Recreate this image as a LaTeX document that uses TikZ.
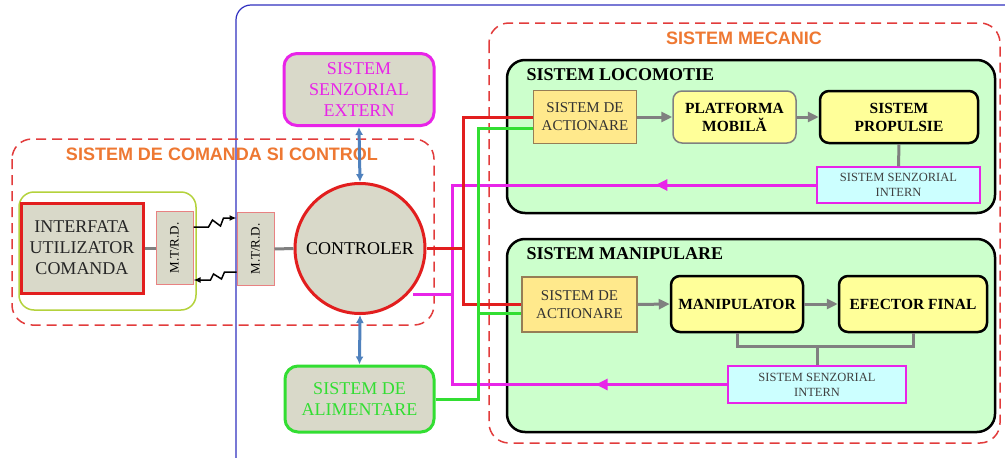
\documentclass[tikz,border=0pt]{standalone}
\usepackage{fontspec}
\setmainfont{Liberation Serif}
\setsansfont{Liberation Sans}
\usepackage{graphicx}
\usetikzlibrary{arrows.meta,decorations.markings}
\definecolor{boxgrey}{RGB}{217,217,201}
\definecolor{magline}{RGB}{232,36,232}
\definecolor{redline}{RGB}{226,30,30}
\definecolor{greenline}{RGB}{50,222,50}
\definecolor{linegrey}{RGB}{128,128,128}
\definecolor{steel}{RGB}{79,129,189}
\definecolor{frameblue}{RGB}{48,48,192}
\definecolor{titleorange}{RGB}{238,120,50}
\definecolor{dashred}{RGB}{226,60,60}
\definecolor{lightgreen}{RGB}{204,255,204}
\definecolor{paleyellow}{RGB}{255,255,153}
\definecolor{actyellow}{RGB}{255,233,140}
\definecolor{actborder}{RGB}{150,125,85}
\definecolor{palecyan}{RGB}{204,255,255}
\definecolor{limeframe}{RGB}{180,210,60}
\definecolor{mtborder}{RGB}{232,130,130}

\begin{document}
\begin{tikzpicture}[x=1pt,y=-1pt]
    \tikzset{%
      sysbox/.style={draw, rounded corners=13pt, fill=boxgrey, line width=3pt,
        align=center, font=\fontsize{18}{21}\selectfont},
      mtbox/.style={draw=mtborder, fill=boxgrey, line width=1pt,
        minimum width=37pt, minimum height=73pt, inner sep=0pt,
        font=\fontsize{13}{15}\selectfont},
      actbox/.style={draw=actborder, fill=actyellow, line width=1.2pt,
        align=center, text=black!80, font=\fontsize{15}{18}\selectfont},
      partbox/.style={draw, rounded corners=9pt, fill=paleyellow, line width=2.5pt,
        align=center, font=\bfseries\fontsize{15.5}{18}\selectfont},
      ssibox/.style={draw=magline, fill=palecyan, line width=1.2pt,
        align=center, text=black!75, font=\fontsize{12.5}{15}\selectfont},
      subframe/.style={draw, line width=2.5pt, rounded corners=18pt, fill=lightgreen},
      dashframe/.style={draw=dashred, line width=1.5pt, dash pattern=on 10pt off 6pt,
        rounded corners=20pt},
      frametitle/.style={text=titleorange, font=\sffamily\bfseries\fontsize{18}{20}\selectfont},
      subtitle/.style={anchor=west, font=\bfseries\fontsize{18}{20}\selectfont},
      greyline/.style={draw=linegrey, line width=3pt},
      greyarrow/.style={greyline, -{Triangle[length=11pt,width=10pt]}},
      bluearrow/.style={draw=steel, line width=3pt,
        {Latex[length=8pt,width=8pt]}-{Latex[length=8pt,width=8pt]}},
      zigzag/.style={draw=black, line width=1.5pt, -{Latex[length=7pt,width=6pt]}},
      redl/.style={draw=redline, line width=3pt},
      greenl/.style={draw=greenline, line width=3pt},
      magl/.style={draw=magline, line width=3pt},
      backarrow/.style={magl, postaction=decorate, decoration={markings,
        mark=at position #1 with {\arrow{Triangle[length=12pt,width=11pt]}}}},
    }
    \useasboundingbox (0,0) rectangle (1005,458);
    \clip (0,0) rectangle (1005,458);
    \fill[white] (0,0) rectangle (1005,458);

    % frames
    \draw[frameblue, line width=1.2pt, rounded corners=15pt] (236,5) rectangle (1030,480);
    \draw[dashframe] (12,139) rectangle (434,325);
    \draw[limeframe, line width=1.5pt, rounded corners=15pt] (19,192) rectangle (196,310);
    \node[frametitle] (cmdtitle) at (222,154) {SISTEM DE COMANDA SI CONTROL};
    \draw[dashframe] (489,23) rectangle (1000,443);
    \node[frametitle] (mectitle) at (744,38) {SISTEM MECANIC};
    \draw[subframe] (507,60) rectangle (995,213);
    \node[subtitle] (loctitle) at (523,75) {SISTEM LOCOMOTIE};
    \draw[subframe] (507,239) rectangle (995,432);
    \node[subtitle] (mantitle) at (523,254) {SISTEM MANIPULARE};

    % command side
    \node[draw=redline, fill=boxgrey, line width=3pt, align=center, text=black!85,
      minimum width=122pt, minimum height=90pt, inner sep=0pt,
      font=\fontsize{18}{21}\selectfont] (ui) at (82,248) {INTERFATA\\UTILIZATOR\\COMANDA};
    \node[mtbox] (mtl) at (174.5,248) {\rotatebox{90}{M.T/R.D.}};
    \node[mtbox] (mtr) at (255.5,249) {\rotatebox{90}{M.T/R.D.}};
    \node[circle, draw=redline, fill=boxgrey, line width=3pt, minimum size=130pt,
      inner sep=0pt, font=\fontsize{18}{21}\selectfont] (ctrl) at (360,248.5) {CONTROLER};
    \node[sysbox, draw=magline, text=magline, minimum width=150pt, minimum height=72pt]
      (ext) at (359,89.5) {SISTEM\\SENZORIAL\\EXTERN};
    \node[sysbox, draw=greenline, text=greenline, minimum width=149pt, minimum height=66pt]
      (alim) at (359.5,399) {SISTEM DE\\ALIMENTARE};

    % locomotion
    \node[actbox, minimum width=103pt, minimum height=53pt] (actl) at (585,117) {SISTEM DE\\ACTIONARE};
    \node[partbox, draw=linegrey, line width=1.5pt, minimum width=123pt, minimum height=52pt]
      (plat) at (734.5,117) {PLATFORMA\\MOBILĂ};
    \node[partbox, minimum width=158pt, minimum height=52pt] (prop) at (899,117) {SISTEM\\PROPULSIE};
    \node[ssibox, minimum width=163pt, minimum height=36pt] (ssil) at (898.5,185) {SISTEM SENZORIAL\\INTERN};

    % manipulation
    \node[actbox, minimum width=115pt, minimum height=55pt] (actm) at (579.5,304.5) {SISTEM DE\\ACTIONARE};
    \node[partbox, minimum width=132pt, minimum height=56pt] (manip) at (737,304) {MANIPULATOR};
    \node[partbox, minimum width=148pt, minimum height=56pt] (efec) at (913,304) {EFECTOR FINAL};
    \node[ssibox, minimum width=178pt, minimum height=37pt] (ssim) at (817,384.5) {SISTEM SENZORIAL\\INTERN};

    \coordinate (rj) at (463,248.5);
    \coordinate (gj) at (478,313);
    \coordinate (mj) at (452,294);
    \coordinate (mo) at (413,294);
    \coordinate (bj) at (817,346);

    % links
    \draw[greyline] (ui.east) -- (mtl.west);
    \draw[greyline] (mtr.east) -- (ctrl.west);
    \draw[zigzag] ([yshift=21pt]mtl.east) -- ++(15,0) -- ++(4,-7) -- ++(8,6) -- ++(3,-8)
      -- ([yshift=31pt]mtr.west);
    \draw[zigzag] ([yshift=-23pt]mtr.west) -- ++(-12,0) -- ++(-3,7) -- ++(-8,-5) -- ++(-3,6)
      -- ([yshift=-32pt]mtl.east);
    \draw[bluearrow] (ext.south) -- (ctrl.north);
    \draw[bluearrow] (ctrl.south) -- (alim.north);

    \draw[magl] (mo) -- (mj);
    \draw[backarrow=0.34] (ssil.west) -| (mj);
    \draw[backarrow=0.36] (ssim.west) -| (mj);
    \draw[redl] (ctrl.east) -- (rj);
    \draw[redl] (actl.west) -| (rj) |- (actm.west);
    \draw[greenl] (alim.east) -| (gj) |- ([yshift=-11pt]actl.west);
    \draw[greenl] (gj) -- (gj -| actm.west);

    \draw[greyarrow] (actl.east) -- (plat.west);
    \draw[greyarrow] (plat.east) -- (prop.west);
    \draw[greyline] (prop.south) -- (ssil.north);
    \draw[greyarrow] (actm.east) -- (manip.west);
    \draw[greyarrow] (manip.east) -- (efec.west);
    \draw[greyline] (manip.south) |- (bj) -| (efec.south);
    \draw[greyline] (bj) -- (ssim.north);
\end{tikzpicture}
\end{document}
